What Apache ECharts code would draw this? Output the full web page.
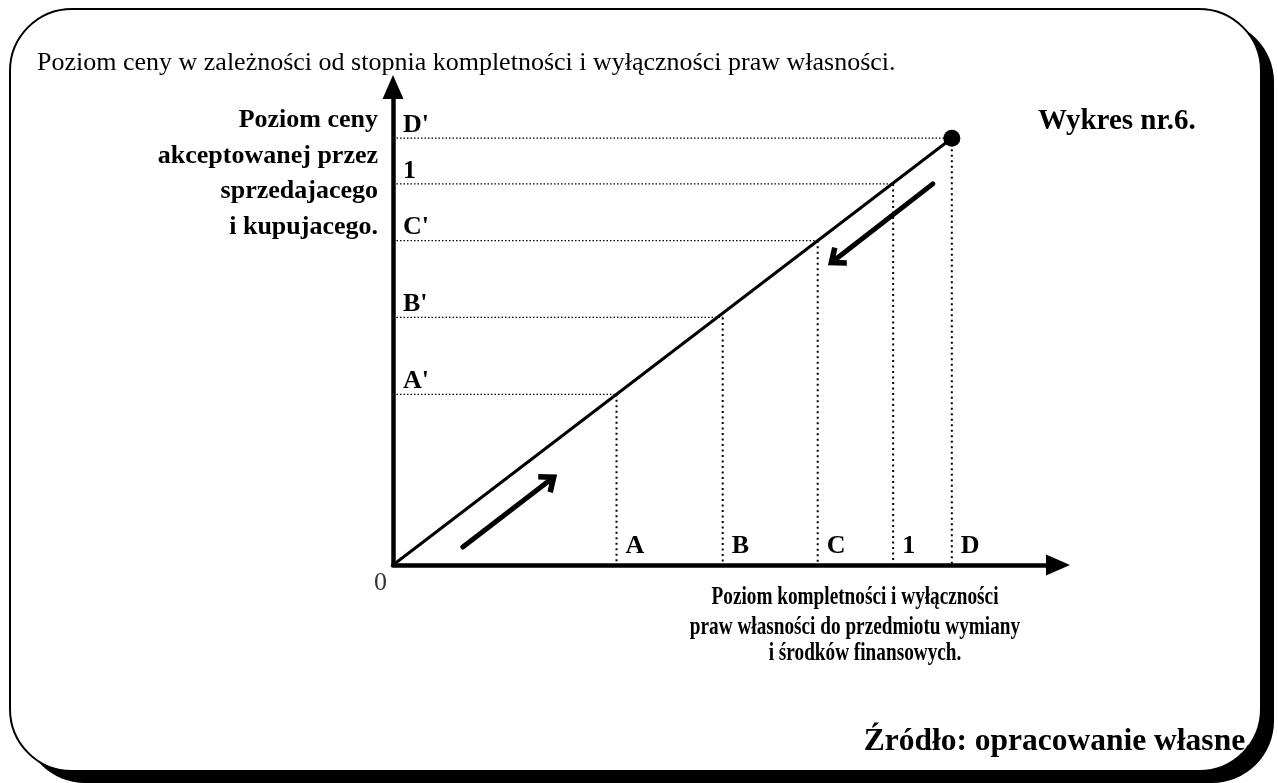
<!DOCTYPE html>
<html>
<head>
<meta charset="utf-8">
<script src="https://cdn.jsdelivr.net/npm/echarts@6/dist/echarts.min.js"></script>
<style>
html,body{margin:0;padding:0;background:#fff;}
#chart{width:1278px;height:783px;}
</style>
</head>
<body>
<div id="chart"></div>
<script>
// ---- data ----
var xLevelLabels = ['A', 'B', 'C', '1', 'D'];
var xLevels = [40, 59, 76, 89.5, 100];
var yLevelLabels = ["A'", "B'", "C'", '1', "D'"];
var yLevels = [40, 58, 76, 89.3, 100];
var xMax = 119;
var yMax = 112;
var upArrow = [[12.5, 4.2], [28.1, 19.9]];
var downArrow = [[96.6, 89.3], [79.1, 71.5]];

var titleText = 'Poziom ceny w zależności od stopnia kompletności i wyłączności praw własności.';
var yName = 'Poziom ceny\nakceptowanej przez\nsprzedajacego\ni kupujacego.';
var xNameLines = ['Poziom kompletności i wyłączności', 'praw własności do przedmiotu wymiany', 'i środków finansowych.'];
var chartNo = 'Wykres nr.6.';
var sourceText = 'Źródło: opracowanie własne.';

var FONT = '"Liberation Serif", "Times New Roman", serif';

function findLabel(vals, labels, v) {
  for (var i = 0; i < vals.length; i++) if (Math.abs(vals[i] - v) < 1e-6) return labels[i];
  return '';
}

var series = [];
// guide lines (horizontal and vertical dotted)
xLevels.forEach(function (xv, i) {
  var yv = yLevels[i];
  series.push({
    type: 'line', data: [[0, yv], [xv, yv]], symbol: 'none', silent: true,
    lineStyle: { color: '#000', width: 1.3, type: [1.5, 2] }, z: 1
  });
  series.push({
    type: 'line', data: [[xv, yv], [xv, 0]], symbol: 'none', silent: true,
    lineStyle: { color: '#000', width: 2, type: [2, 3.5] }, z: 1
  });
});
// main line
series.push({
  type: 'line',
  data: [{ value: [0, 0], symbol: 'none' }, { value: [xLevels[4], yLevels[4]], symbol: 'circle', symbolSize: 17 }],
  lineStyle: { color: '#000', width: 3 },
  itemStyle: { color: '#000' },
  z: 3,
  markLine: {
    silent: true,
    symbol: ['none', 'path://M0,13 L11,0 L22,13 L18,16 L11,8 L4,16 Z'],
    symbolSize: [24, 18],
    label: { show: false },
    lineStyle: { color: '#000', width: 5, type: 'solid', cap: 'round' },
    data: [
      [{ coord: upArrow[0] }, { coord: upArrow[1] }],
      [{ coord: downArrow[0] }, { coord: downArrow[1] }]
    ]
  }
});
// origin label
series.push({
  type: 'scatter', data: [[0, 0]], symbolSize: 1, itemStyle: { color: 'rgba(0,0,0,0)' },
  label: { show: true, formatter: '0', position: [-12, 19], align: 'center', verticalAlign: 'middle',
    fontFamily: FONT, fontSize: 26, color: '#000' }
});

var option = {
  backgroundColor: '#fff',
  animation: false,
  grid: { left: 393, top: 87, right: 220, bottom: 218 },
  xAxis: {
    type: 'value', min: 0, max: xMax,
    splitLine: { show: false },
    axisTick: { show: false },
    axisLine: { onZero: false, symbol: ['none', 'triangle'], symbolSize: [21, 24],
      lineStyle: { color: '#000', width: 4.5 } },
    axisLabel: {
      customValues: xLevels, inside: true, margin: 6, align: 'left', padding: [0, 0, 0, 9],
      formatter: function (v) { return findLabel(xLevels, xLevelLabels, v); },
      fontFamily: FONT, fontSize: 26, fontWeight: 'bold', color: '#000'
    }
  },
  yAxis: {
    type: 'value', min: 0, max: yMax,
    splitLine: { show: false },
    axisTick: { show: false },
    axisLine: { onZero: false, symbol: ['none', 'triangle'], symbolSize: [21, 24],
      lineStyle: { color: '#000', width: 4.5 } },
    axisLabel: {
      customValues: yLevels, inside: true, margin: 10, verticalAlign: 'bottom',
      formatter: function (v) { return findLabel(yLevels, yLevelLabels, v); },
      fontFamily: FONT, fontSize: 26, fontWeight: 'bold', color: '#000'
    }
  },
  graphic: [
    { type: 'rect', z: -101, silent: true,
      shape: { x: 23, y: 20, width: 1251, height: 763, r: 62 },
      style: { fill: '#000' } },
    { type: 'rect', z: -100, silent: true,
      shape: { x: 10, y: 9, width: 1251, height: 762, r: 62 },
      style: { fill: '#fff', stroke: '#000', lineWidth: 2 } },
    { type: 'text', x: 37, y: 63, silent: true,
      style: { text: titleText, font: '26px ' + FONT, fill: '#000', textAlign: 'left', textVerticalAlign: 'middle' } },
    { type: 'text', x: 378, y: 174, silent: true,
      style: { text: yName, font: 'bold 26px ' + FONT, fill: '#000', textAlign: 'right', textVerticalAlign: 'middle', lineHeight: 35.5 } },
    { type: 'text', x: 1038, y: 122, silent: true,
      style: { text: chartNo, font: 'bold 29px ' + FONT, fill: '#000', textAlign: 'left', textVerticalAlign: 'middle' } },
    { type: 'text', x: 855, y: 597, scaleX: 0.74, silent: true,
      style: { text: xNameLines[0], font: 'bold 26px ' + FONT, fill: '#000', textAlign: 'center', textVerticalAlign: 'middle' } },
    { type: 'text', x: 855, y: 627, scaleX: 0.74, silent: true,
      style: { text: xNameLines[1], font: 'bold 26px ' + FONT, fill: '#000', textAlign: 'center', textVerticalAlign: 'middle' } },
    { type: 'text', x: 865, y: 653, scaleX: 0.74, silent: true,
      style: { text: xNameLines[2], font: 'bold 26px ' + FONT, fill: '#000', textAlign: 'center', textVerticalAlign: 'middle' } },
    { type: 'text', x: 1253, y: 742, silent: true,
      style: { text: sourceText, font: 'bold 31.5px ' + FONT, fill: '#000', textAlign: 'right', textVerticalAlign: 'middle' } }
  ],
  series: series
};

var chart = echarts.init(document.getElementById('chart'), null, { renderer: 'canvas' });
chart.setOption(option);
</script>
</body>
</html>
